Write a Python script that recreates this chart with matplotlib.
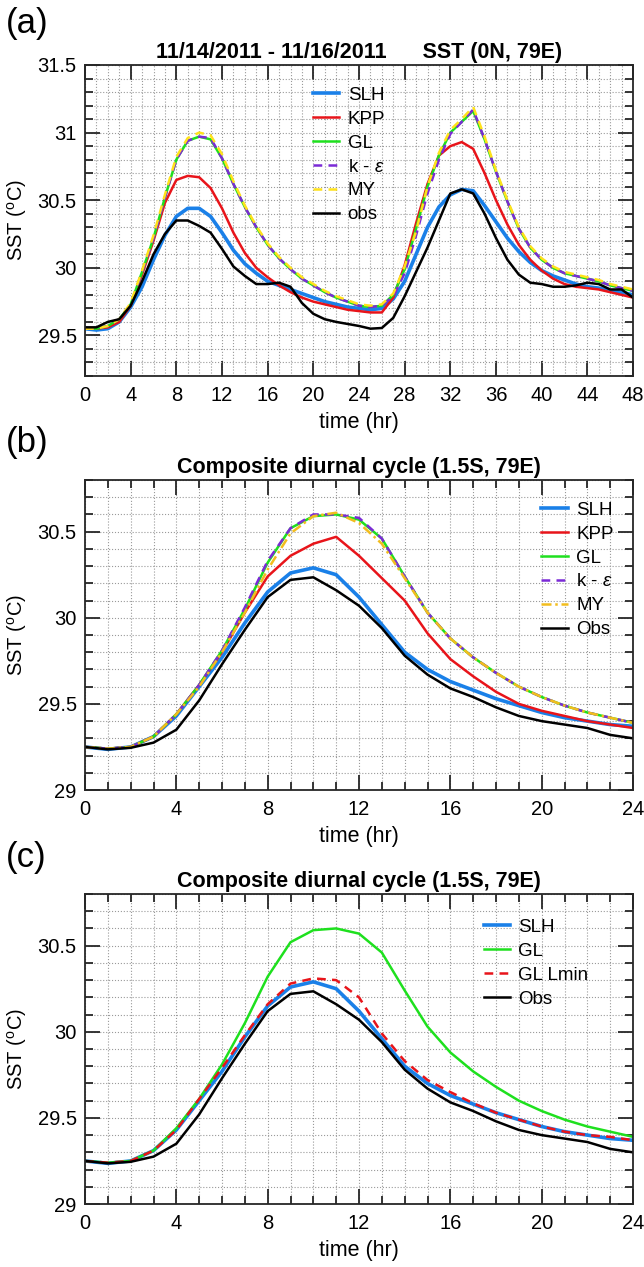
import matplotlib
matplotlib.use('Agg')
import matplotlib.pyplot as plt
from matplotlib.ticker import MultipleLocator
import numpy as np

plt.rcParams['font.family'] = ['Liberation Sans', 'DejaVu Sans']
plt.rcParams['mathtext.fontset'] = 'custom'
plt.rcParams['mathtext.rm'] = 'Liberation Sans'
plt.rcParams['mathtext.it'] = 'Liberation Sans:italic'

# ---- panel (a): 11/14 - 11/16 2011, hourly, 0N 79E ----
hours_a = np.arange(0, 49)
slh_a = [29.55, 29.54, 29.55, 29.60, 29.71, 29.86, 30.06, 30.24, 30.38, 30.44, 30.44, 30.38, 30.26,
         30.13, 30.03, 29.96, 29.90, 29.87, 29.84, 29.81, 29.78, 29.75, 29.73, 29.71, 29.70, 29.69,
         29.70, 29.77, 29.90, 30.10, 30.30, 30.45, 30.54, 30.58, 30.57, 30.46, 30.34, 30.22, 30.12,
         30.04, 29.98, 29.94, 29.91, 29.88, 29.86, 29.85, 29.83, 29.82, 29.80]
kpp_a = [29.55, 29.55, 29.56, 29.60, 29.72, 29.95, 30.20, 30.48, 30.65, 30.68, 30.67, 30.59, 30.44,
         30.26, 30.11, 30.00, 29.93, 29.87, 29.82, 29.78, 29.75, 29.73, 29.71, 29.69, 29.68, 29.67,
         29.67, 29.78, 30.02, 30.33, 30.62, 30.83, 30.90, 30.93, 30.88, 30.70, 30.50, 30.32, 30.17,
         30.06, 29.98, 29.92, 29.88, 29.86, 29.85, 29.84, 29.82, 29.80, 29.78]
gl_a = [29.55, 29.55, 29.57, 29.62, 29.73, 29.97, 30.22, 30.52, 30.80, 30.94, 30.97, 30.95, 30.81,
        30.62, 30.45, 30.30, 30.17, 30.07, 29.99, 29.92, 29.87, 29.82, 29.78, 29.75, 29.72, 29.71,
        29.72, 29.80, 29.99, 30.29, 30.60, 30.83, 31.00, 31.08, 31.16, 30.95, 30.71, 30.49, 30.29,
        30.15, 30.06, 30.00, 29.96, 29.94, 29.92, 29.90, 29.87, 29.85, 29.83]
ke_a = [29.55, 29.55, 29.57, 29.62, 29.73, 29.97, 30.22, 30.52, 30.80, 30.94, 30.97, 30.96, 30.81,
        30.62, 30.45, 30.30, 30.17, 30.07, 29.99, 29.92, 29.87, 29.82, 29.78, 29.75, 29.72, 29.71,
        29.72, 29.79, 29.96, 30.24, 30.55, 30.80, 30.99, 31.08, 31.17, 30.95, 30.71, 30.49, 30.29,
        30.15, 30.06, 30.00, 29.96, 29.94, 29.92, 29.90, 29.87, 29.85, 29.83]
my_a = [29.55, 29.55, 29.57, 29.62, 29.74, 29.98, 30.24, 30.54, 30.82, 30.96, 31.00, 30.98, 30.84,
        30.64, 30.46, 30.31, 30.18, 30.08, 30.00, 29.93, 29.88, 29.83, 29.79, 29.76, 29.73, 29.72,
        29.73, 29.81, 30.01, 30.27, 30.60, 30.85, 31.02, 31.10, 31.19, 30.97, 30.72, 30.50, 30.30,
        30.16, 30.07, 30.01, 29.97, 29.95, 29.93, 29.91, 29.88, 29.86, 29.84]
obs_a = [29.56, 29.56, 29.60, 29.62, 29.72, 29.90, 30.10, 30.25, 30.35, 30.35, 30.31, 30.26, 30.14,
         30.01, 29.94, 29.88, 29.88, 29.89, 29.86, 29.74, 29.66, 29.62, 29.60, 29.585, 29.57, 29.55,
         29.555, 29.63, 29.79, 29.97, 30.15, 30.35, 30.55, 30.58, 30.55, 30.40, 30.22, 30.06, 29.95,
         29.89, 29.88, 29.86, 29.86, 29.87, 29.89, 29.88, 29.84, 29.84, 29.78]

# ---- panels (b), (c): composite diurnal cycle, 1.5S 79E ----
hours_b = np.arange(0, 25)
slh_b = [29.25, 29.236, 29.25, 29.31, 29.43, 29.60, 29.77, 29.97, 30.15, 30.26, 30.29, 30.25, 30.12,
         29.96, 29.80, 29.70, 29.63, 29.58, 29.53, 29.49, 29.45, 29.42, 29.40, 29.38, 29.37]
kpp_b = [29.25, 29.24, 29.25, 29.31, 29.44, 29.61, 29.80, 30.03, 30.24, 30.36, 30.43, 30.47, 30.36,
         30.23, 30.10, 29.91, 29.76, 29.66, 29.57, 29.50, 29.46, 29.43, 29.40, 29.38, 29.36]
gl_b = [29.25, 29.24, 29.25, 29.31, 29.44, 29.61, 29.81, 30.05, 30.32, 30.52, 30.59, 30.60, 30.57,
        30.46, 30.24, 30.03, 29.88, 29.77, 29.68, 29.60, 29.54, 29.49, 29.45, 29.42, 29.39]
ke_b = [29.25, 29.24, 29.25, 29.31, 29.44, 29.61, 29.81, 30.06, 30.33, 30.52, 30.60, 30.60, 30.58,
        30.46, 30.24, 30.03, 29.88, 29.77, 29.68, 29.60, 29.54, 29.49, 29.45, 29.42, 29.39]
my_b = [29.25, 29.24, 29.25, 29.31, 29.44, 29.60, 29.80, 30.03, 30.28, 30.49, 30.59, 30.61, 30.55,
        30.43, 30.23, 30.03, 29.88, 29.77, 29.68, 29.60, 29.54, 29.49, 29.45, 29.42, 29.39]
obs_b = [29.25, 29.236, 29.245, 29.275, 29.35, 29.52, 29.73, 29.93, 30.12, 30.22, 30.235, 30.16, 30.07,
         29.94, 29.78, 29.67, 29.59, 29.54, 29.48, 29.43, 29.40, 29.38, 29.36, 29.32, 29.30]
lmin_c = [29.25, 29.24, 29.25, 29.31, 29.43, 29.61, 29.79, 29.98, 30.16, 30.28, 30.31, 30.30, 30.20,
          29.99, 29.83, 29.72, 29.65, 29.585, 29.53, 29.49, 29.45, 29.42, 29.40, 29.39, 29.37]

C_SLH = '#1a80e8'
C_KPP = '#e8141a'
C_GL = '#1ee01e'
C_KE = '#7b2ad6'
C_MY_A = '#ffe21a'
C_MY_B = '#f2bd1e'

W, H = 644, 1267
fig = plt.figure(figsize=(W / 100, H / 100), dpi=100)

LEG = dict(loc='upper left', frameon=False, fontsize=13.5, handlelength=1.4, handletextpad=0.45,
           labelspacing=0.36, borderaxespad=0, borderpad=0)


def add_ax(top_px, bot_px):
    return fig.add_axes([85 / W, 1 - bot_px / H, 548 / W, (bot_px - top_px) / H])


def style(ax, xmax, ymin, ymax, xminor_ticks):
    ax.set_xlim(0, xmax)
    ax.set_ylim(ymin, ymax)
    ax.xaxis.set_major_locator(MultipleLocator(4))
    ax.xaxis.set_minor_locator(MultipleLocator(1))
    ax.yaxis.set_minor_locator(MultipleLocator(0.1))
    ax.tick_params(which='both', direction='in', top=True, right=True, labelsize=14.5, width=1.3,
                   color='#262626')
    ax.tick_params(axis='x', which='major', pad=7)
    ax.tick_params(axis='y', which='major', pad=6)
    ax.tick_params(which='major', length=11)
    ax.tick_params(axis='y', which='minor', length=5.5)
    ax.tick_params(axis='x', which='minor', length=5.5 if xminor_ticks else 0)
    ax.grid(True, which='both', linestyle=':', color='#9a9a9a', linewidth=0.8)
    ax.set_axisbelow(True)
    for s in ax.spines.values():
        s.set_linewidth(1.3)
        s.set_color('#262626')
    ax.set_xlabel('time (hr)', fontsize=15.5, labelpad=5)
    ax.set_ylabel(r'SST ($^{\rm o}$C)', fontsize=14.5, labelpad=6)


# (a)
ax = add_ax(65, 376)
ax.plot(hours_a, slh_a, color=C_SLH, lw=2.6, label='SLH')
ax.plot(hours_a, kpp_a, color=C_KPP, lw=1.8, label='KPP')
ax.plot(hours_a, gl_a, color=C_GL, lw=1.8, label='GL')
ax.plot(hours_a, ke_a, color=C_KE, lw=1.8, ls=(0, (3.5, 2.5)), label=r'k - $\epsilon$')
ax.plot(hours_a, my_a, color=C_MY_A, lw=1.8, ls=(0, (3.5, 2.5)), label='MY')
ax.plot(hours_a, obs_a, color='black', lw=1.8, label='obs')
style(ax, 48, 29.2, 31.5, False)
ax.set_yticks([29.5, 30, 30.5, 31, 31.5])
ax.set_yticklabels(['29.5', '30', '30.5', '31', '31.5'])
ax.set_title('11/14/2011 - 11/16/2011      SST (0N, 79E)', fontsize=15.5, fontweight='bold', pad=5)
ax.legend(bbox_to_anchor=(0.416, 0.93), **LEG)
fig.text(6 / W, 1 - 24 / H, '(a)', fontsize=25, va='center', ha='left')

# (b)
ax = add_ax(480, 790)
ax.plot(hours_b, slh_b, color=C_SLH, lw=2.6, label='SLH')
ax.plot(hours_b, kpp_b, color=C_KPP, lw=1.8, label='KPP')
ax.plot(hours_b, gl_b, color=C_GL, lw=1.8, label='GL')
ax.plot(hours_b, ke_b, color=C_KE, lw=1.8, ls=(0, (3.5, 2.5)), label=r'k - $\epsilon$')
ax.plot(hours_b, my_b, color=C_MY_B, lw=1.8, ls=(0, (4, 1.5, 1, 1.5)), label='MY')
ax.plot(hours_b, obs_b, color='black', lw=1.8, label='Obs')
style(ax, 24, 29.0, 30.8, True)
ax.set_yticks([29, 29.5, 30, 30.5])
ax.set_yticklabels(['29', '29.5', '30', '30.5'])
ax.set_title('Composite diurnal cycle (1.5S, 79E)', fontsize=15.5, fontweight='bold', pad=5)
ax.legend(bbox_to_anchor=(0.833, 0.93), **LEG)
fig.text(6 / W, 1 - 443 / H, '(b)', fontsize=25, va='center', ha='left')

# (c)
ax = add_ax(894, 1204)
ax.plot(hours_b, slh_b, color=C_SLH, lw=2.6, label='SLH')
ax.plot(hours_b, gl_b, color=C_GL, lw=1.8, label='GL')
ax.plot(hours_b, lmin_c, color=C_KPP, lw=1.8, ls=(0, (3.5, 2.5)), label='GL Lmin')
ax.plot(hours_b, obs_b, color='black', lw=1.8, label='Obs')
style(ax, 24, 29.0, 30.8, True)
ax.set_yticks([29, 29.5, 30, 30.5])
ax.set_yticklabels(['29', '29.5', '30', '30.5'])
ax.set_title('Composite diurnal cycle (1.5S, 79E)', fontsize=15.5, fontweight='bold', pad=5)
ax.legend(bbox_to_anchor=(0.7275, 0.92), **LEG)
fig.text(6 / W, 1 - 858 / H, '(c)', fontsize=25, va='center', ha='left')

fig.savefig('out.png', dpi=100, facecolor='white')
